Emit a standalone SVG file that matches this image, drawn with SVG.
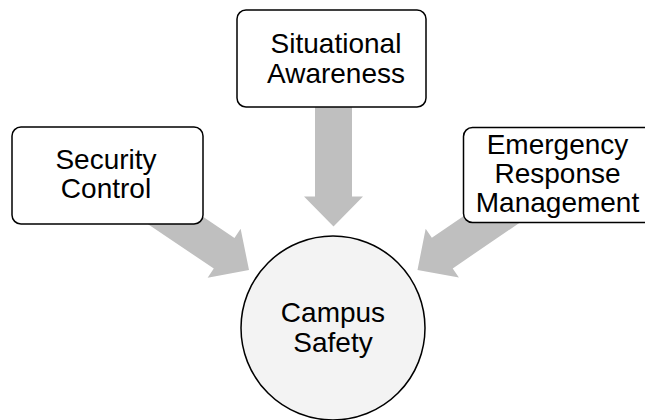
<svg xmlns="http://www.w3.org/2000/svg" width="645" height="420" viewBox="0 0 645 420">
  <style>
    .box { fill: #ffffff; stroke: #000000; stroke-width: 1.5; }
    .hub { fill: #f3f3f3; stroke: #000000; stroke-width: 1.5; }
    .flow { fill: #bfbfbf; stroke: none; }
    text { font-family: "Liberation Sans", Arial, sans-serif; font-size: 28px; fill: #000000; text-anchor: middle; }
  </style>

  <!-- block arrows: local frame has the tip at the origin, pointing along +x -->
  <g id="connectors">
    <polygon class="flow" transform="translate(333.5 226.5) rotate(90)" points="-120,-18.5 -30,-18.5 -30,-29.5 0,0 -30,29.5 -30,18.5 -120,18.5"/>
    <polygon class="flow" transform="translate(249 270) rotate(34)" points="-150,-18.5 -30,-18.5 -30,-29.5 0,0 -30,29.5 -30,18.5 -150,18.5"/>
    <polygon class="flow" transform="translate(417.5 270) rotate(145.7)" points="-150,-18.5 -30,-18.5 -30,-29.5 0,0 -30,29.5 -30,18.5 -150,18.5"/>
  </g>

  <g id="node-situational-awareness">
    <rect class="box" x="237" y="10" width="189" height="97" rx="9"/>
    <text x="336" y="53">Situational</text>
    <text x="336" y="83">Awareness</text>
  </g>

  <g id="node-security-control">
    <rect class="box" x="12" y="127" width="191" height="97" rx="9"/>
    <text x="106" y="169">Security</text>
    <text x="106" y="198">Control</text>
  </g>

  <g id="node-emergency-response">
    <rect class="box" x="463.5" y="127.5" width="190" height="95" rx="9"/>
    <text x="557.5" y="154">Emergency</text>
    <text x="557.5" y="183">Response</text>
    <text x="557.5" y="212">Management</text>
  </g>

  <g id="node-campus-safety">
    <circle class="hub" cx="333" cy="328" r="92"/>
    <text x="333" y="322">Campus</text>
    <text x="333" y="352">Safety</text>
  </g>
</svg>
